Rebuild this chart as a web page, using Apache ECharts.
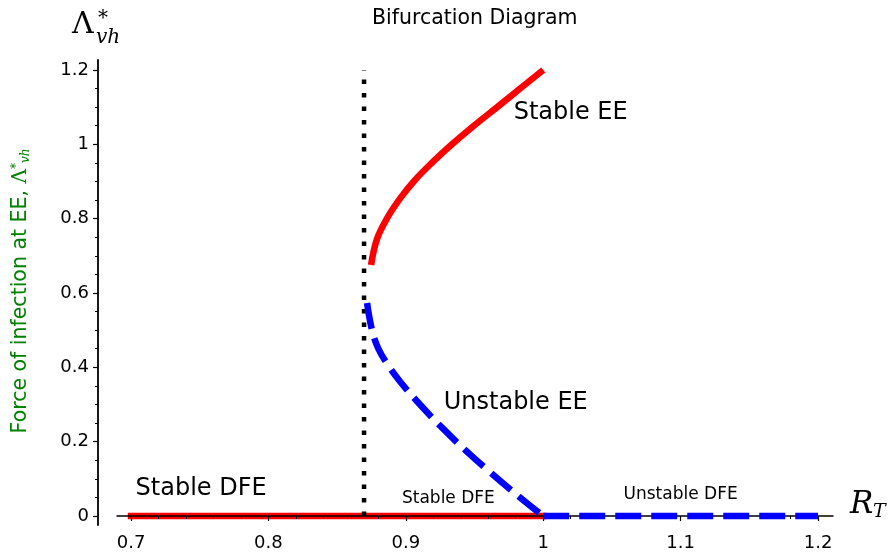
<!DOCTYPE html>
<html><head><meta charset="utf-8">
<script src="https://cdn.jsdelivr.net/npm/echarts@6/dist/echarts.min.js"></script>
<style>html,body{margin:0;padding:0;background:#fff}#c{width:891px;height:552px}</style>
</head><body><div id="c"></div>
<script>
// ---- data ----
const xTicks = [0.7, 0.8, 0.9, 1.0, 1.1, 1.2];
const xTickLabels = ['0.7', '0.8', '0.9', '1', '1.1', '1.2'];
const xMinorTicks = [0.72,0.74,0.76,0.78,0.82,0.84,0.86,0.88,0.92,0.94,0.96,0.98,1.02,1.04,1.06,1.08,1.12,1.14,1.16,1.18];
const yTicks = [0, 0.2, 0.4, 0.6, 0.8, 1.0, 1.2];
const yTickLabels = ['0', '0.2', '0.4', '0.6', '0.8', '1', '1.2'];
const yMinorTicks = [0.05,0.1,0.15,0.25,0.3,0.35,0.45,0.5,0.55,0.65,0.7,0.75,0.85,0.9,0.95,1.05,1.1,1.15];

const stableDFE_x = [0.7, 1.0];
const stableDFE_y = [0, 0];
const unstableDFE_x = [1.0, 1.2];
const unstableDFE_y = [0, 0];
const threshold_x = [0.8696, 0.8696];
const threshold_y = [0, 1.2];
const stableEE_x = [0.8747, 0.8790, 0.8862, 0.8960, 0.9067, 0.9195, 0.9336, 0.9495, 0.9665, 0.9832, 1.0];
const stableEE_y = [0.675, 0.745, 0.800, 0.855, 0.904, 0.952, 1.000, 1.050, 1.100, 1.150, 1.2];
const unstableEE_x = [0.8718, 0.8754, 0.8798, 0.8863, 0.8958, 0.9103, 0.9271, 0.9431, 0.9613, 0.9831, 1.0];
const unstableEE_y = [0.573, 0.500, 0.452, 0.410, 0.362, 0.300, 0.235, 0.178, 0.118, 0.050, 0];

const bigLabels = ['Stable EE', 'Unstable EE', 'Stable DFE'];
const bigLabel_x = [1.02, 0.98, 0.751];
const bigLabel_y = [1.085, 0.304, 0.073];
const smallLabels = ['Stable DFE', 'Unstable DFE'];
const smallLabel_x = [0.931, 1.100];
const smallLabel_y = [0.046, 0.057];

const titleText = 'Bifurcation Diagram';
const yLabelText = 'Force of infection at EE, ';

// ---- chart ----
const zip = (xs, ys) => xs.map((x, i) => [x, ys[i]]);
const chart = echarts.init(document.getElementById('c'), null, {renderer: 'canvas'});
const X_MIN = 0.6898, X_MAX = 1.2109, Y_MIN = -0.0242, Y_MAX = 1.2268;
const FONT = 'DejaVu Sans';
const GREEN = '#008000';
const tickLabel = (ticks, labels) => v => {
  let best = 0;
  ticks.forEach((t, i) => { if (Math.abs(t - v) < Math.abs(ticks[best] - v)) best = i; });
  return labels[best];
};
const textLabel = size => ({
  show: true, position: 'inside', formatter: p => p.name,
  fontFamily: FONT, fontSize: size, color: '#000',
  textBorderWidth: 0, textBorderColor: 'transparent', opacity: 1
});

chart.setOption({
  animation: false,
  backgroundColor: '#fff',
  title: {
    text: titleText, left: 367, top: 3,
    textStyle: {fontFamily: FONT, fontSize: 20.5, fontWeight: 'normal', color: '#000'}
  },
  grid: {left: 117, right: 58, top: 60, bottom: 27},
  xAxis: [{
    type: 'value', min: X_MIN, max: X_MAX, z: 4,
    axisLine: {onZero: true, lineStyle: {color: '#000', width: 1.5}},
    axisTick: {show: true, customValues: xTicks, length: 5, lineStyle: {color: '#000', width: 1.2}},
    axisLabel: {customValues: xTicks, formatter: tickLabel(xTicks, xTickLabels), fontFamily: FONT, fontSize: 18, color: '#000', margin: 9},
    splitLine: {show: false}
  }, {
    type: 'value', min: X_MIN, max: X_MAX, position: 'bottom', z: 4,
    axisLine: {show: false, onZero: true},
    axisTick: {show: true, customValues: xMinorTicks, length: 3, lineStyle: {color: '#000', width: 1}},
    axisLabel: {show: false},
    splitLine: {show: false}
  }],
  yAxis: [{
    type: 'value', min: Y_MIN, max: Y_MAX, offset: 19,
    axisLine: {show: true, onZero: false, lineStyle: {color: '#000', width: 1.8}},
    axisTick: {show: true, customValues: yTicks, length: 5, lineStyle: {color: '#000', width: 1.2}},
    axisLabel: {customValues: yTicks, formatter: tickLabel(yTicks, yTickLabels), fontFamily: FONT, fontSize: 18, color: '#000', margin: 9},
    splitLine: {show: false}
  }, {
    type: 'value', min: Y_MIN, max: Y_MAX, position: 'left', offset: 19,
    axisLine: {show: false, onZero: false},
    axisTick: {show: true, customValues: yMinorTicks, length: 3, lineStyle: {color: '#000', width: 1}},
    axisLabel: {show: false},
    splitLine: {show: false}
  }],
  series: [
    {type: 'line', data: zip(stableDFE_x, stableDFE_y), showSymbol: false, z: 1,
     lineStyle: {color: '#ff0000', width: 6.5, cap: 'square'}},
    {type: 'line', data: zip(threshold_x, threshold_y), showSymbol: false, z: 2,
     lineStyle: {color: '#000', width: 4.5, type: [4.5, 9], cap: 'butt'}},
    {type: 'line', data: zip(stableEE_x, stableEE_y), showSymbol: false, smooth: 0.4, z: 5,
     lineStyle: {color: '#ff0000', width: 6.5, cap: 'butt'}},
    {type: 'line', data: zip(unstableEE_x, unstableEE_y), showSymbol: false, smooth: 0.4, z: 5,
     lineStyle: {color: '#0000ff', width: 6.5, type: [26, 10], cap: 'butt'}},
    {type: 'line', data: zip(unstableDFE_x, unstableDFE_y), showSymbol: false, z: 6,
     lineStyle: {color: '#0000ff', width: 6.5, type: [26, 10], cap: 'butt'}},
    {type: 'scatter', symbolSize: 0, z: 7, silent: true, itemStyle: {color: '#000'},
     data: bigLabels.map((t, i) => ({name: t, value: [bigLabel_x[i], bigLabel_y[i]]})),
     label: textLabel(24)},
    {type: 'scatter', symbolSize: 0, z: 7, silent: true, itemStyle: {color: '#000'},
     data: smallLabels.map((t, i) => ({name: t, value: [smallLabel_x[i], smallLabel_y[i]]})),
     label: textLabel(17)}
  ],
  graphic: [
    // Lambda*_vh at top of y axis
    {type: 'text', left: 72, top: 10, style: {text: 'Λ', font: '30px "DejaVu Serif"', fill: '#000'}},
    {type: 'text', left: 98, top: 9, style: {text: '*', font: '20px "DejaVu Serif"', fill: '#000'}},
    {type: 'text', left: 96, top: 28, style: {text: 'vh', font: 'italic 20px "DejaVu Serif"', fill: '#000'}},
    // R_T at end of x axis
    {type: 'text', left: 850, top: 489, style: {text: 'R', font: 'italic 31px "DejaVu Serif"', fill: '#000'}},
    {type: 'text', left: 873, top: 503, style: {text: 'T', font: 'italic 19px "DejaVu Serif"', fill: '#000'}},
    // rotated green y label
    {type: 'group', x: 21, y: 291, rotation: Math.PI / 2, children: [
      {type: 'text', x: 0, y: 0, style: {
        text: '{t|' + yLabelText + '}{m|Λ}{s|*}{b|vh}',
        fill: GREEN,
        align: 'center', verticalAlign: 'middle',
        rich: {
          t: {fontSize: 20.5, fontFamily: 'DejaVu Sans', fill: GREEN, color: GREEN},
          m: {fontSize: 20, fontFamily: 'DejaVu Serif', fill: GREEN, color: GREEN},
          s: {fontSize: 12, fontFamily: 'DejaVu Serif', fill: GREEN, color: GREEN, verticalAlign: 'top', padding: [0, 0, 9, 0]},
          b: {fontSize: 12, fontFamily: 'DejaVu Serif', fontStyle: 'italic', fill: GREEN, color: GREEN, verticalAlign: 'bottom', padding: [9, 0, 0, 0]}
        }
      }}
    ]}
  ]
});
</script></body></html>
